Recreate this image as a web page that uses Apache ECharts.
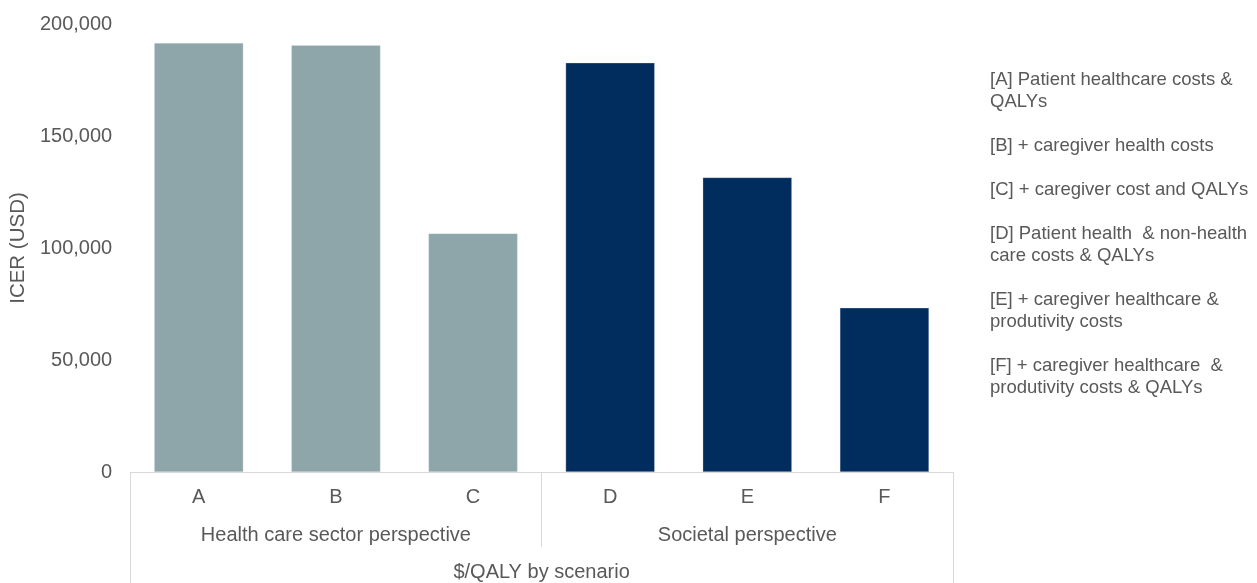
<!DOCTYPE html>
<html>
<head>
<meta charset="utf-8">
<script src="https://cdn.jsdelivr.net/npm/echarts@6/dist/echarts.min.js"></script>
<style>
html,body{margin:0;padding:0;background:#fff;}
#chart{width:1257px;height:583px;}
</style>
</head>
<body>
<div id="chart"></div>
<script>
// ---- data ----
const scenarios = ['A', 'B', 'C', 'D', 'E', 'F'];
const icerValues = [191500, 190500, 106500, 182700, 131500, 73300];
const scenarioGroup = [0, 0, 0, 1, 1, 1];
const groups = ['Health care sector perspective', 'Societal perspective'];
const outerCategory = ['$/QALY by scenario'];
const yTicks = [0, 50000, 100000, 150000, 200000];
const yAxisTitle = 'ICER (USD)';
const legendLines = [
  '[A] Patient healthcare costs &',
  'QALYs',
  '',
  '[B] + caregiver health costs',
  '',
  '[C] + caregiver cost and QALYs',
  '',
  '[D] Patient health  & non-health',
  'care costs & QALYs',
  '',
  '[E] + caregiver healthcare &',
  'produtivity costs',
  '',
  '[F] + caregiver healthcare  &',
  'produtivity costs & QALYs'
];

// ---- styles ----
const FONT = '"Liberation Sans", Arial, sans-serif';
const TEXT = '#595959';
const LINE = '#d9d9d9';
const groupColors = ['#8ea6aa', '#002d5e'];

const chart = echarts.init(document.getElementById('chart'), null, {renderer: 'canvas'});
chart.setOption({
  animation: false,
  backgroundColor: '#ffffff',
  textStyle: {fontFamily: FONT},
  title: {
    text: legendLines.join('\n'),
    left: 990,
    top: 69,
    padding: 0,
    textStyle: {
      fontFamily: FONT,
      fontSize: 18.5,
      fontWeight: 'normal',
      color: TEXT,
      lineHeight: 22
    }
  },
  grid: {left: 130, right: 304, top: 24, bottom: 111},
  xAxis: [
    {
      type: 'category',
      data: scenarios,
      position: 'bottom',
      axisLine: {show: true, lineStyle: {color: LINE, width: 1}},
      axisTick: {show: false},
      axisLabel: {interval: 0, margin: 15, fontSize: 20, color: TEXT, fontFamily: FONT},
      splitLine: {show: false}
    },
    {
      type: 'category',
      data: groups,
      position: 'bottom',
      axisLine: {show: false},
      axisTick: {show: true, interval: 0, length: 75, lineStyle: {color: LINE, width: 1}},
      axisLabel: {interval: 0, margin: 53, fontSize: 20, color: TEXT, fontFamily: FONT},
      splitLine: {show: false}
    },
    {
      type: 'category',
      data: outerCategory,
      position: 'bottom',
      axisLine: {show: false},
      axisTick: {show: true, interval: 0, length: 111, lineStyle: {color: LINE, width: 1}},
      axisLabel: {interval: 0, margin: 90, fontSize: 20, color: TEXT, fontFamily: FONT},
      splitLine: {show: false}
    }
  ],
  yAxis: {
    type: 'value',
    min: yTicks[0],
    max: yTicks[yTicks.length - 1],
    interval: yTicks[1] - yTicks[0],
    name: yAxisTitle,
    nameLocation: 'middle',
    nameGap: 95,
    nameTextStyle: {fontSize: 20.5, color: TEXT, fontFamily: FONT},
    axisLine: {show: false},
    axisTick: {show: false},
    splitLine: {show: false},
    axisLabel: {
      margin: 18,
      fontSize: 20,
      color: TEXT,
      fontFamily: FONT,
      formatter: v => v.toLocaleString('en-US')
    }
  },
  series: [{
    type: 'bar',
    xAxisIndex: 0,
    data: icerValues.map((v, i) => ({
      value: v,
      itemStyle: {color: groupColors[scenarioGroup[i]]}
    })),
    barCategoryGap: '35%',
    itemStyle: {borderColor: 'rgba(220,230,240,0.6)', borderWidth: 0.5}
  }]
});
</script>
</body>
</html>
